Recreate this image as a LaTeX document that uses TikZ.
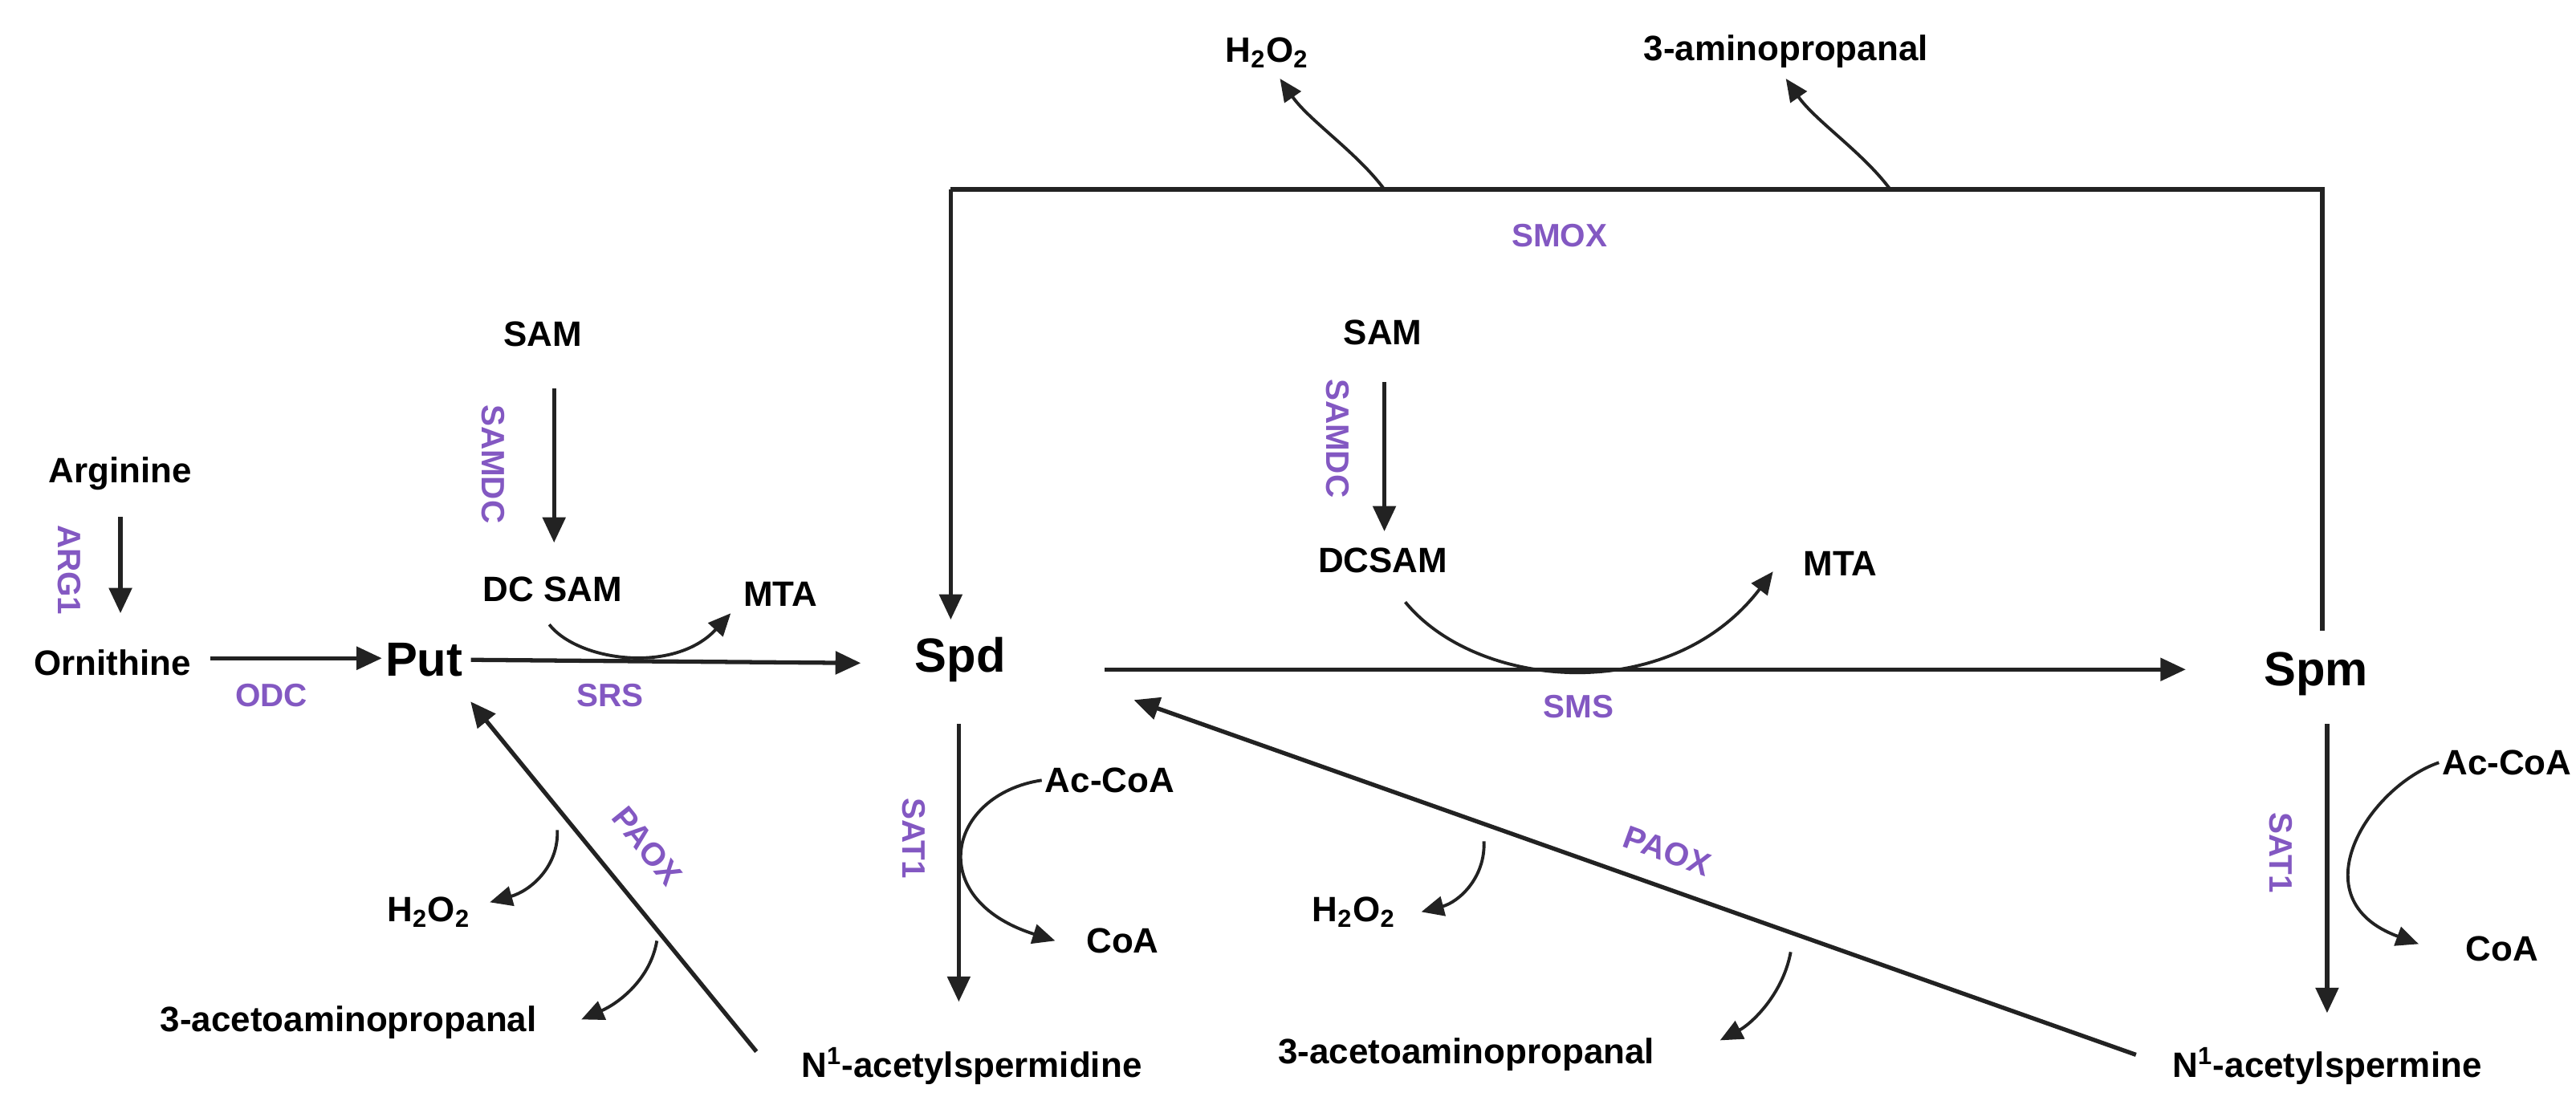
\documentclass[tikz,border=0pt]{standalone}
\usepackage{fontspec}
\setmainfont{Liberation Sans}
\usetikzlibrary{arrows.meta}
\definecolor{enz}{HTML}{8358C2}
\definecolor{ink}{HTML}{222222}
\begin{document}
\begin{tikzpicture}[x=0.02cm,y=-0.02cm,
  met/.style={font=\bfseries\fontsize{12.5}{14}\selectfont,text=black,inner sep=1pt},
  big/.style={font=\bfseries\fontsize{17}{19}\selectfont,text=black,inner sep=1pt},
  enzl/.style={font=\bfseries\fontsize{11.5}{13}\selectfont,text=enz,inner sep=1pt},
  rx/.style={draw=ink,line width=1.5pt,-{Triangle[length=9pt,width=8pt]}},
  ln/.style={draw=ink,line width=1.5pt},
  br/.style={draw=ink,line width=1.1pt,-{Triangle[length=8pt,width=7pt]}}]
\useasboundingbox (0,0) rectangle (1604,688);
% metabolites
\node[met] (h2top) at (789,33) {H$_\mathbf{2}$O$_\mathbf{2}$};
\node[met] (apr) at (1112,32) {3-aminopropanal};
\node[big] (spd) at (598,411) {Spd};
\node[big] (spm) at (1442,420) {Spm};
\node[big] (put) at (264,411) {Put};
\node[met] (orn) at (70,413) {Ornithine};
\node[met] (arg) at (75,295) {Arginine};
\node[met] (sam1) at (338,208) {SAM};
\node[met] (dcsam1) at (344,367) {DC SAM};
\node[met] (mta1) at (486,370) {MTA};
\node[met] (sam2) at (861,207) {SAM};
\node[met] (dcsam2) at (861,349) {DCSAM};
\node[met] (mta2) at (1146,351) {MTA};
\node[met] (acoa1) at (691,486) {Ac-CoA};
\node[met] (coa1) at (699,586) {CoA};
\node[met] (acoa2) at (1561,475) {Ac-CoA};
\node[met] (coa2) at (1558,591) {CoA};
\node[met] (nasd) at (605,664) {N$^\mathbf{1}$-acetylspermidine};
\node[met] (nasm) at (1449,664) {N$^\mathbf{1}$-acetylspermine};
\node[met] (aap1) at (217,637) {3-acetoaminopropanal};
\node[met] (aap2) at (913,657) {3-acetoaminopropanal};
\node[met] (h2l) at (267,568) {H$_\mathbf{2}$O$_\mathbf{2}$};
\node[met] (h2m) at (843,568) {H$_\mathbf{2}$O$_\mathbf{2}$};
% enzymes
\node[enzl] (smox) at (971,147) {SMOX};
\node[enzl,rotate=-90] (arg1) at (43,355) {ARG1};
\node[enzl] (odc) at (169,433) {ODC};
\node[enzl,rotate=-90] (samdc1) at (307,289) {SAMDC};
\node[enzl,rotate=-90] (samdc2) at (833,273) {SAMDC};
\node[enzl] (srs) at (380,433) {SRS};
\node[enzl] (sms) at (983,440) {SMS};
\node[enzl,rotate=-90] (sat1a) at (569,522) {SAT1};
\node[enzl,rotate=-90] (sat1b) at (1420,531) {SAT1};
\node[enzl,rotate=-51] (paox1) at (403,527) {PAOX};
\node[enzl,rotate=-20] (paox2) at (1038,530) {PAOX};
% SMOX bracket
\coordinate (tl) at (592,118); \coordinate (tr) at (1446,118);
\coordinate (rb) at (1446,393); \coordinate (la) at (592,386);
\draw[ln] (rb) -- (tr) -- (tl);
\draw[rx] (tl) -- (la);
\coordinate (b1) at (862,118); \coordinate (b2) at (1177,118);
\draw[br] (b1) .. controls (845,95) and (815,75) .. (797,49);
\draw[br] (b2) .. controls (1160,95) and (1130,75) .. (1112,49);
% main chain
\draw[rx] (arg) ++(0,27) coordinate (a0) -- ++(0,60) coordinate (a1);
\draw[rx] (orn.east) ++(10,-3) coordinate (o0) -- (put.west|-o0);
\draw[rx] (put.east) ++(3,0) coordinate (p0) -- (536,413) coordinate (p1);
\draw[rx] (688,417) coordinate (s0) -- (1361,417) coordinate (s1);
\draw[rx] (345,242) coordinate (m0) -- (345,338) coordinate (m1);
\draw[rx] (862,238) coordinate (n0) -- (862,331) coordinate (n1);
\draw[br] (342,389) .. controls (360,412) and (420,420) .. (455,382);
\draw[br] (875,375) .. controls (920,430) and (1040,440) .. (1104,356);
% SAT1
\draw[rx] (597,451) coordinate (d0) -- (597,624) coordinate (d1);
\draw[rx] (1449,451) coordinate (e0) -- (1449,631) coordinate (e1);
\draw[br] (acoa1.west) .. controls (590,495) and (575,560) .. (657,586);
\draw[br] (acoa2.west) .. controls (1475,490) and (1430,560) .. (1506,588);
% PAOX
\draw[rx] (471,655) coordinate (q0) -- (293,437) coordinate (q1);
\draw[rx] (1330,657) coordinate (r0) -- (706,436) coordinate (r1);
\draw[br] (347,517) .. controls (348,540) and (330,555) .. (305,562);
\draw[br] (409,586) .. controls (405,610) and (385,625) .. (362,635);
\draw[br] (924,524) .. controls (925,547) and (908,562) .. (885,568);
\draw[br] (1115,593) .. controls (1110,620) and (1090,638) .. (1071,648);
\end{tikzpicture}
\end{document}
